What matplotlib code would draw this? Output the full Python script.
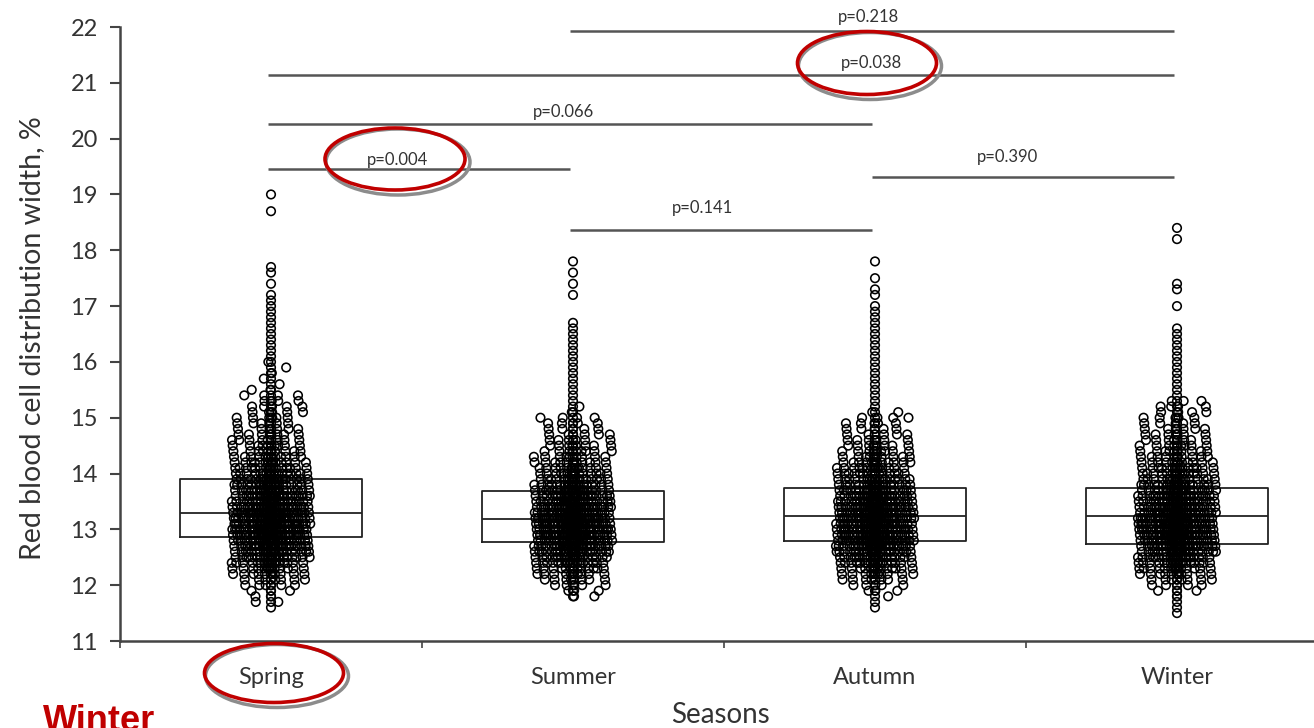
import numpy as np
import matplotlib
matplotlib.use('Agg')
import matplotlib.pyplot as plt
from matplotlib.patches import Ellipse

######## data ########
seasons = ['Spring', 'Summer', 'Autumn', 'Winter']

# box stats (no whiskers drawn)
box_q1 = [12.87, 12.78, 12.80, 12.74]
box_med = [13.30, 13.19, 13.24, 13.24]
box_q3 = [13.91, 13.69, 13.75, 13.75]

# number of patients per 0.1 % RDW step, starting at *_start
spring_start = 11.6
spring_counts = [1, 3, 3, 4, 7, 9, 12, 15, 19, 23, 27, 31, 35, 38, 40, 40, 39, 37, 35, 32,
                 30, 27, 25, 22, 20, 18, 16, 14, 12, 11, 10, 9, 8, 7, 7, 6, 6, 5, 5, 3,
                 2, 2, 2, 2, 2, 1, 1, 1, 1, 1, 1, 1, 1, 1, 1, 1, 1, 0, 1, 0,
                 1, 1, 0, 0, 0, 0, 0, 0, 0, 0, 0, 1, 0, 0, 1]
summer_start = 11.8
summer_counts = [3, 4, 6, 9, 12, 16, 20, 24, 28, 32, 35, 38, 40, 40, 39, 37, 34, 31, 28, 25,
                 22, 19, 17, 15, 13, 11, 10, 9, 8, 7, 6, 6, 5, 2, 2, 1, 1, 1, 1, 1,
                 1, 1, 1, 1, 1, 1, 1, 1, 1, 1, 0, 0, 0, 0, 1, 0, 1, 0, 1, 0, 1]
autumn_start = 11.6
autumn_counts = [1, 1, 2, 4, 6, 9, 12, 16, 20, 24, 28, 32, 35, 38, 40, 40, 39, 37, 35, 32,
                 29, 26, 23, 20, 18, 16, 14, 12, 10, 9, 8, 7, 6, 6, 5, 3, 1, 1, 1, 1,
                 1, 1, 1, 1, 1, 1, 1, 1, 1, 1, 1, 1, 1, 1, 1, 0, 1, 1, 0, 1, 0, 0, 1]
winter_start = 11.5
winter_counts = [1, 1, 1, 2, 4, 6, 9, 12, 16, 20, 24, 28, 32, 35, 37, 39, 39, 38, 36, 34,
                 31, 29, 26, 23, 20, 18, 16, 14, 12, 11, 10, 9, 8, 7, 6, 6, 5, 5, 4, 1,
                 1, 1, 1, 1, 1, 1, 1, 1, 1, 1, 1, 1, 0, 0, 0, 1, 0, 0, 1, 1,
                 0, 0, 0, 0, 0, 0, 0, 1, 0, 1]

# pairwise comparisons
p_pairs = [(1, 2), (1, 3), (1, 4), (2, 4), (2, 3), (3, 4)]
p_labels = ['p=0.004', 'p=0.066', 'p=0.038', 'p=0.218', 'p=0.141', 'p=0.390']
p_levels = [19.46, 20.27, 21.14, 21.93, 18.37, 19.32]

######## layout ########
W, H = 1314, 728
p_text_pos = [(1.42, 19.62), (1.97, 20.48), (2.99, 21.36), (2.98, 22.18), (2.43, 18.76), (3.44, 19.67)]
circled = [(395, 159, 140, 62), (867, 63, 139, 63), (274, 673, 139, 59)]  # fig px: cx, cy, w, h

plt.rcParams['font.family'] = ['Lato', 'DejaVu Sans']
fig = plt.figure(figsize=(W / 100, H / 100), dpi=100)
ax = fig.add_axes([120 / W, 1 - 641 / H, 1208 / W, 614 / H])


def spread(start, counts, phase):
    # lay duplicates side by side, dense in the middle
    xs, ys = [], []
    for i, n in enumerate(counts):
        y = round(start + i * 0.1, 1)
        ph = (phase + i * 0.377) % 1.0
        w = 0.13 * min(1.0, (n - 1) / 5.0) ** 0.5 if n > 1 else 0.0
        for k in range(n):
            if k == 0:
                off = 0.0
            else:
                v = 2 * ((ph + k * 0.6180339887) % 1.0) - 1
                off = w * np.sign(v) * abs(v) ** 1.7
            xs.append(off)
            ys.append(y)
    return np.array(xs), np.array(ys)


# boxes
stats = []
for i in range(4):
    stats.append({'med': box_med[i], 'q1': box_q1[i], 'q3': box_q3[i],
                  'whislo': box_q1[i], 'whishi': box_q3[i], 'fliers': []})
ax.bxp(stats, positions=[1, 2, 3, 4], widths=0.605, showcaps=False, showfliers=False,
       boxprops=dict(color='#222222', linewidth=1.3),
       medianprops=dict(color='#222222', linewidth=1.3),
       whiskerprops=dict(linewidth=0), manage_ticks=False, zorder=2)

# points
starts = [spring_start, summer_start, autumn_start, winter_start]
all_counts = [spring_counts, summer_counts, autumn_counts, winter_counts]
for i in range(4):
    dx, yy = spread(starts[i], all_counts[i], 0.13 + 0.21 * i)
    ax.scatter(i + 1 + dx, yy, s=38, facecolors='none', edgecolors='#000000',
               linewidths=1.15, zorder=3)

# significance bars
for (a, b), lab, lev, (tx, ty) in zip(p_pairs, p_labels, p_levels, p_text_pos):
    ax.plot([a - 0.01, b - 0.01], [lev, lev], color='#555555', linewidth=1.8,
            solid_capstyle='butt', clip_on=False, zorder=4)
    ax.text(tx, ty, lab, ha='center', va='center', fontsize=12, color='#333333', clip_on=False)

ax.set_xlim(0.5, 4.5)
ax.set_ylim(11, 22)
ax.set_yticks(range(11, 23))
ax.set_xticks([0.5, 1.5, 2.5, 3.5])
ax.set_xticklabels([])
ax.set_xticks([1, 2, 3, 4], minor=True)
ax.set_xticklabels(seasons, minor=True, fontsize=17, color='#333333')
ax.tick_params(axis='x', which='minor', length=0, pad=19)
ax.tick_params(axis='x', which='major', length=5, width=1.2, color='#444444')
ax.tick_params(axis='y', length=7, width=1.5, color='#444444', labelsize=17,
               labelcolor='#333333', pad=9)
for side in ['top', 'right']:
    ax.spines[side].set_visible(False)
for side in ['left', 'bottom']:
    ax.spines[side].set_color('#444444')
    ax.spines[side].set_linewidth(1.8)

ax.set_ylabel('Red blood cell distribution width, %', fontsize=20.5, color='#333333')
ax.yaxis.set_label_coords(-0.062, 0.4935)
ax.set_xlabel('Seasons', fontsize=20, color='#333333')
ax.xaxis.set_label_coords(0.4967, -0.099)

# red circles with grey shadow
for cx, cy, w, h in circled:
    fig.add_artist(Ellipse(((cx + 3) / W, 1 - (cy + 3) / H), (w + 4) / W, (h + 4) / H,
                           fill=False, edgecolor='#8c8c8c', linewidth=2.5))
    fig.add_artist(Ellipse((cx / W, 1 - cy / H), w / W, h / H,
                           fill=False, edgecolor='#c00000', linewidth=2.6))

# cut off at the bottom edge, as in the source image
fig.text(43 / W, 1 - 731 / H, 'Winter', fontsize=26, fontweight='bold', color='#c00000',
         family='Liberation Sans', ha='left', va='baseline')

fig.savefig('out.png', dpi=100)
